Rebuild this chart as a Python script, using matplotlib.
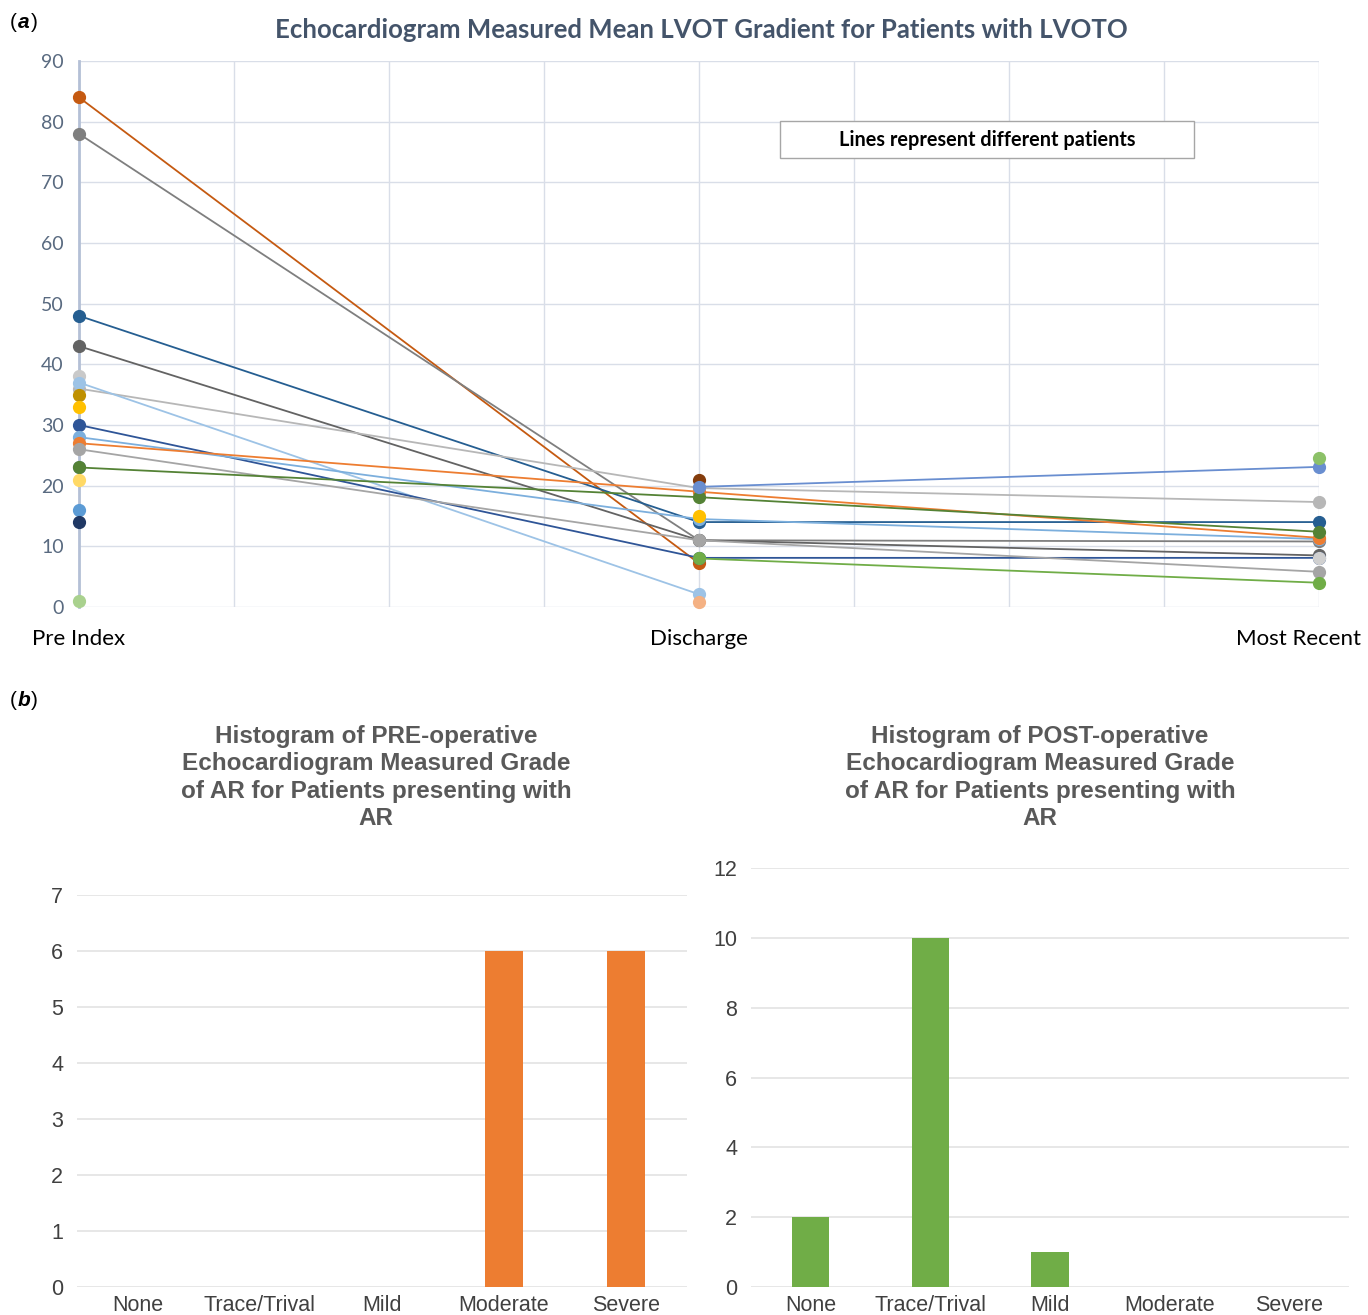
import numpy as np
import matplotlib
matplotlib.use("Agg")
import matplotlib.pyplot as plt
from matplotlib.patches import Rectangle
from matplotlib.transforms import offset_copy

nan = np.nan

# (a) mean LVOT gradient, one entry per patient (nan = not measured)
timepoints = ["Pre Index", "Discharge", "Most Recent"]
pre_index = [84, 78, 48, 43, 38, 36, 37, 35, 33, 30, 28, 27, 26, 23, 23, 21, 16, 14, 1,
             nan, nan, nan, nan, nan, nan, nan]
discharge = [7.2, 11, 14, 11, nan, 19.6, 2.1, nan, nan, 8.1, 14.5, 19, 11, nan, 18.1, nan, nan, nan, nan,
             20.9, 19.8, 15, 0.8, nan, 8, nan]
most_recent = [nan, 10.8, 14, 8.5, nan, 17.3, nan, nan, nan, 8.1, 11.2, 11.4, 5.8, nan, 12.4, nan, nan, nan, nan,
               nan, 23.1, nan, nan, 24.6, 4, 8.1]
patient_colors = ["#C55A11", "#7F7F7F", "#255E91", "#636363", "#C9C9C9", "#B7B7B7", "#9DC3E6", "#BF9000",
                  "#FFC000", "#2F5597", "#7CAFDD", "#ED7D31", "#A5A5A5", "#8FAADC", "#548235", "#FFD966",
                  "#5B9BD5", "#203864", "#A9D18E", "#843C0C", "#698ED0", "#FFC000", "#F4B183", "#8CC168",
                  "#70AD47", "#D0D0D0"]

# (b) AR grade histograms
grades = ["None", "Trace/Trival", "Mild", "Moderate", "Severe"]
pre_op_counts = [0, 0, 0, 6, 6]
post_op_counts = [2, 10, 1, 0, 0]

W, H = 1368, 1315
fig = plt.figure(figsize=(W / 100, H / 100), dpi=100)

# ---------- panel (a) ----------
ax = fig.add_axes([79 / W, 1 - 607 / H, 1240 / W, 546 / H])
xs = np.arange(len(timepoints))
for i in range(len(pre_index)):
    ys = np.array([pre_index[i], discharge[i], most_recent[i]], dtype=float)
    ax.plot(xs, ys, '-o', color=patient_colors[i], lw=1.3, ms=8.5, clip_on=False, zorder=3)

ax.set_xlim(0, 2)
ax.set_ylim(0, 90)
ax.set_yticks(np.arange(0, 91, 10))
ax.set_xticks(xs)
ax.set_xticklabels(timepoints, fontsize=16, family="Lato", color="black")
ax.set_xticks(np.arange(0, 2.01, 0.25), minor=True)
ax.tick_params(axis='x', which='both', length=0, pad=16)
ax.tick_params(axis='y', length=0, pad=11, labelsize=14, labelcolor="#596A80")
for lab in ax.get_yticklabels():
    lab.set_family("Lato")
last = ax.get_xticklabels()[-1]
last.set_transform(offset_copy(last.get_transform(), fig=fig, x=-20, y=0, units='dots'))
ax.grid(True, which='both', axis='x', color="#D9DEE8", lw=1)
ax.grid(True, which='major', axis='y', color="#D9DEE8", lw=1)
ax.set_axisbelow(True)
for s in ["top", "right", "bottom"]:
    ax.spines[s].set_visible(False)
ax.spines["left"].set_color("#B4C0D6")
ax.spines["left"].set_linewidth(2)

ax.add_patch(Rectangle((0.5653, 0.8223), 0.3339, 0.0678, transform=ax.transAxes,
                       facecolor="white", edgecolor="#A6A6A6", lw=1, zorder=4))
ax.text(0.5653 + 0.3339 / 2, 0.8223 + 0.0678 / 2, "Lines represent different patients",
        transform=ax.transAxes, ha='center', va='center', fontsize=14.3, fontweight='bold',
        family="Lato", zorder=5)

fig.text(701 / W, 1 - 30 / H, "Echocardiogram Measured Mean LVOT Gradient for Patients with LVOTO",
         ha='center', va='center', fontsize=18.5, fontweight='bold', color="#44546A", family="Lato")


# ---------- panel (b) ----------
def histogram(rect, counts, color, ymax, step, title, title_x):
    bx = fig.add_axes(rect)
    pos = np.arange(len(grades))
    bx.bar(pos, counts, width=0.31, color=color, zorder=3)
    bx.set_xlim(-0.5, len(grades) - 0.5)
    bx.set_ylim(0, ymax)
    bx.set_yticks(np.arange(0, ymax + 0.1, step))
    bx.set_xticks(pos)
    bx.set_xticklabels(grades)
    bx.tick_params(axis='both', length=0, labelsize=15.5, labelcolor="#404040")
    bx.tick_params(axis='x', pad=6)
    bx.tick_params(axis='y', pad=10)
    for lab in bx.get_xticklabels() + bx.get_yticklabels():
        lab.set_family("Liberation Sans")
    bx.grid(True, axis='y', color="#E3E3E3", lw=1.2)
    bx.set_axisbelow(True)
    for s in bx.spines.values():
        s.set_visible(False)
    fig.text(title_x / W, 1 - 777.5 / H, title, ha='center', va='center', fontsize=17.5,
             fontweight='bold', color="#595959", family="Liberation Sans", linespacing=1.25)
    return bx


histogram([77 / W, 1 - 1287 / H, 610 / W, 392 / H], pre_op_counts, "#ED7D31", 7, 1,
          "Histogram of PRE-operative\nEchocardiogram Measured Grade\nof AR for Patients presenting with\nAR", 376)
histogram([751 / W, 1 - 1287 / H, 598 / W, 419 / H], post_op_counts, "#70AD47", 12, 2,
          "Histogram of POST-operative\nEchocardiogram Measured Grade\nof AR for Patients presenting with\nAR", 1040)


# panel letters
def panel_label(y, letter):
    fig.text(10 / W, 1 - y / H, "(", ha='left', va='center', fontsize=15, family="Liberation Sans")
    fig.text(18 / W, 1 - y / H, letter, ha='left', va='center', fontsize=15, family="Liberation Sans",
             fontweight='bold', style='italic')
    fig.text(31 / W, 1 - y / H, ")", ha='left', va='center', fontsize=15, family="Liberation Sans")


panel_label(22, "a")
panel_label(700, "b")

fig.savefig("out.png", dpi=100, facecolor="white")
